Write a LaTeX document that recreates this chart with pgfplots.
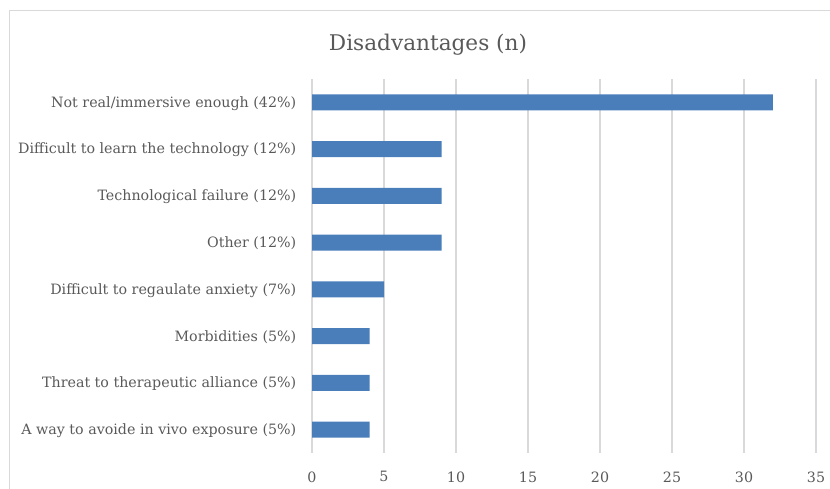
\documentclass[border=0pt]{standalone}
\usepackage{pgfplots}
\pgfplotsset{compat=1.18}
\usepackage{fontspec}
\setmainfont{DejaVu Serif}
\definecolor{barblue}{HTML}{4A7EBB}
\definecolor{txtgrey}{HTML}{595959}
\definecolor{gridgrey}{HTML}{D9D9D9}
\begin{document}
\begin{tikzpicture}[x=1bp,y=1bp]
\useasboundingbox (0,0) rectangle (830,489);
\draw[gridgrey, line width=1bp] (9.5,0) -- (9.5,478) -- (830,478);
\begin{axis}[
  at={(312bp,36bp)}, anchor=south west,
  scale only axis, width=504bp, height=374bp,
  xmin=0, xmax=35, ymin=-0.5, ymax=7.5,
  enlargelimits=false,
  xbar, bar width=0.342,
  axis line style={draw=none},
  tick style={draw=none},
  xmajorgrids, grid style={gridgrey, line width=1.5bp},
  xtick={0,5,...,35},
  ytick={0,...,7},
  yticklabels={A way to avoide in vivo exposure (5\%),
    Threat to therapeutic alliance (5\%),
    Morbidities (5\%),
    Difficult to regaulate anxiety (7\%),
    Other (12\%),
    Technological failure (12\%),
    Difficult to learn the technology (12\%),
    Not real/immersive enough (42\%)},
  /pgf/number format/assume math mode=true,
  ticklabel style={font=\fontsize{14.3}{17}\selectfont, text=txtgrey},
  yticklabel style={anchor=east, xshift=-8bp, yshift=-1bp},
  xticklabel style={yshift=-15bp},
  title={Disadvantages (n)},
  title style={at={(axis description cs:0.2302,1.075)}, anchor=center,
    font=\fontsize{21.7}{26}\selectfont, text=txtgrey},
]
\addplot[fill=barblue, draw=none] coordinates {
  (4,0) (4,1) (4,2) (5,3) (9,4) (9,5) (9,6) (32,7)
};
\end{axis}
\end{tikzpicture}
\end{document}
